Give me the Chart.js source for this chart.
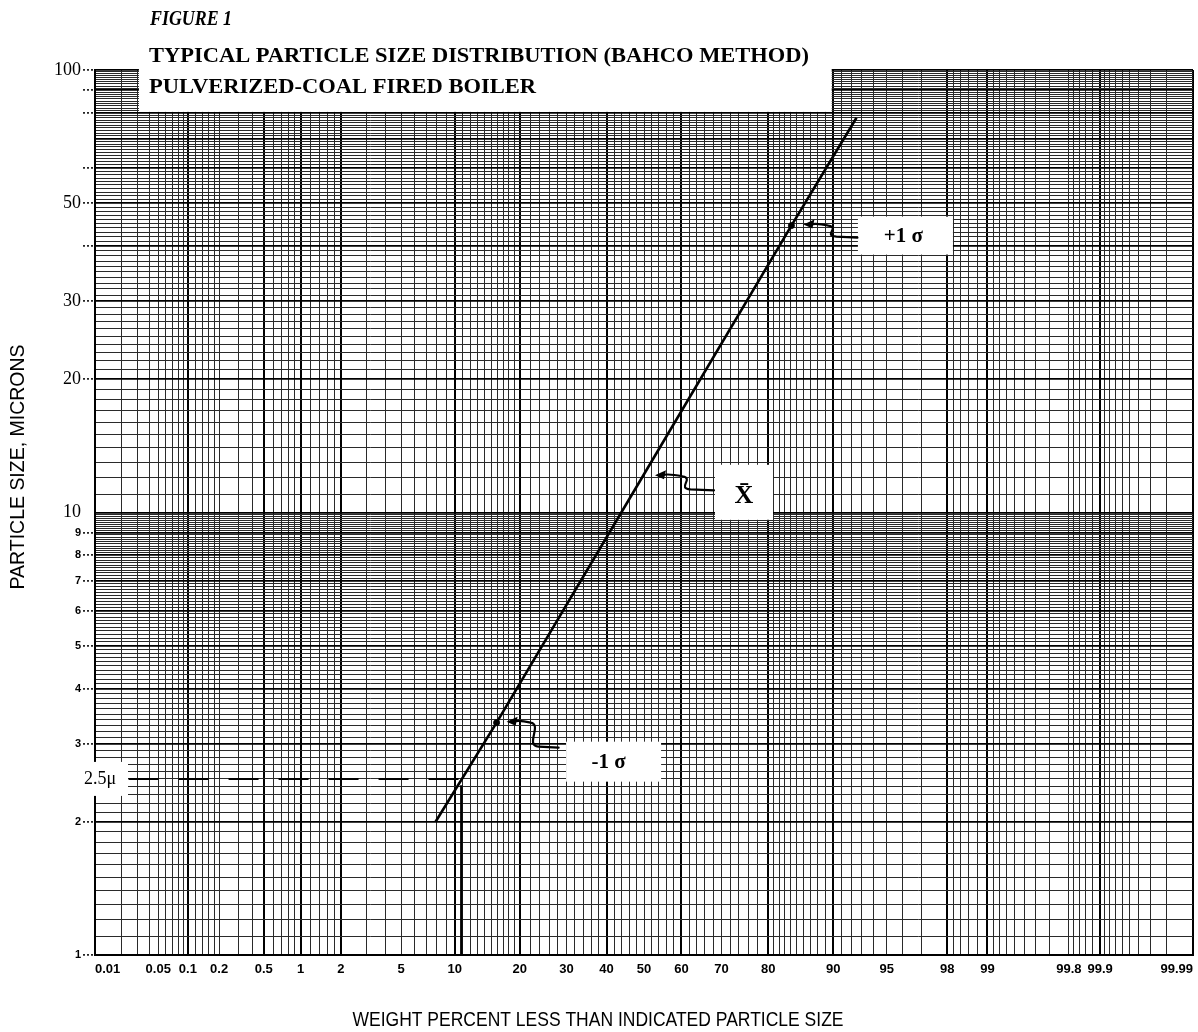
<!DOCTYPE html>
<html><head><meta charset="utf-8">
<script src="https://cdn.jsdelivr.net/npm/chart.js@4.4.1/dist/chart.umd.min.js"></script>
<style>html,body{margin:0;padding:0;background:#fff}#wrap{position:relative;width:1198px;height:1032px}</style>
</head><body><div id="wrap"><canvas id="c"></canvas></div>
<script>
// ---------- data ----------
const curvePercent = [7.9, 15.9, 50, 84.1, 92.5];
const curveSize    = [2.0, 3.35, 12.2, 44.5, 78];
const sigmaPercent = [15.9, 84.1];
const sigmaSize    = [3.35, 44.5];
const refSize = 2.5;
const refLinePercent = [0.024, 11];
const refDropPercent = [10.8, 10.8];
const refDropSize    = [2.42, 1];
const xTickLabels = [0.01,0.05,0.1,0.2,0.5,1,2,5,10,20,30,40,50,60,70,80,90,95,98,99,99.8,99.9,99.99];
const yTickLabels = [1,2,3,4,5,6,7,8,9,10,20,30,50,100];
const yDashTicks  = [1,2,3,4,5,6,7,8,9,20,30,40,50,60,80,90,100];
const xGridRanges = [[0.01,0.1,0.01],[0.1,0.2,0.02],[0.2,1,0.1],[1,2,0.2],[2,10,1],[10,20,1],[20,80,2],[80,90,1],[90,98,1],[98,99,0.2],[99,99.8,0.1],[99.8,99.9,0.02],[99.9,99.99,0.01]];
const yGridRanges = [[1,10,0.1],[10,100,1]];
const xMajor = [0.01,0.1,0.5,1,2,10,20,40,60,80,90,98,99,99.9,99.99];
const yMajor = [1,2,3,4,5,6,7,8,9,10,20,30,40,50,60,70,80,90,100];
const titleFigure = 'FIGURE 1';
const titleLines = ['TYPICAL PARTICLE SIZE DISTRIBUTION (BAHCO METHOD)', 'PULVERIZED-COAL FIRED BOILER'];
const xTitle = 'WEIGHT PERCENT LESS THAN INDICATED PARTICLE SIZE';
const yTitle = 'PARTICLE SIZE, MICRONS';

// ---------- helpers ----------
function probit(p){
  const a=[-3.969683028665376e+01,2.209460984245205e+02,-2.759285104469687e+02,1.383577518672690e+02,-3.066479806614716e+01,2.506628277459239e+00];
  const b=[-5.447609879822406e+01,1.615858368580409e+02,-1.556989798598866e+02,6.680131188771972e+01,-1.328068155288572e+01];
  const c=[-7.784894002430293e-03,-3.223964580411365e-01,-2.400758277161838e+00,-2.549671208440792e+00,4.374664141464968e+00,2.938163982698783e+00];
  const d=[7.784695709041462e-03,3.224671290700398e-01,2.445134137142996e+00,3.754408661907416e+00];
  const pl=0.02425, ph=1-pl; let q,r;
  if(p<pl){q=Math.sqrt(-2*Math.log(p));return (((((c[0]*q+c[1])*q+c[2])*q+c[3])*q+c[4])*q+c[5])/((((d[0]*q+d[1])*q+d[2])*q+d[3])*q+1);}
  if(p<=ph){q=p-0.5;r=q*q;return (((((a[0]*r+a[1])*r+a[2])*r+a[3])*r+a[4])*r+a[5])*q/(((((b[0]*r+b[1])*r+b[2])*r+b[3])*r+b[4])*r+1);}
  q=Math.sqrt(-2*Math.log(1-p));return -(((((c[0]*q+c[1])*q+c[2])*q+c[3])*q+c[4])*q+c[5])/((((d[0]*q+d[1])*q+d[2])*q+d[3])*q+1);
}
const Z = pct => probit(pct/100);
function buildGrid(ranges){
  const s = new Set();
  ranges.forEach(([a,b,st])=>{const n=Math.round((b-a)/st);for(let i=0;i<=n;i++)s.add(Math.round((a+i*st)*10000)/10000);});
  return [...s].sort((u,v)=>u-v);
}
const isIn = (arr,v) => arr.some(t=>Math.abs(t-v)<1e-6);
const xGrid = buildGrid(xGridRanges);
const yGrid = buildGrid(yGridRanges);

function fitText(ctx, text, cx, cy, width, font, rot, align){
  ctx.save(); ctx.font=font; ctx.textAlign=align||'center'; ctx.textBaseline='middle'; ctx.fillStyle='#000';
  const w=ctx.measureText(text).width;
  ctx.translate(cx,cy); if(rot) ctx.rotate(rot);
  ctx.scale(width/w,1); ctx.fillText(text,0,0); ctx.restore();
}
function squiggle(ctx, tipX, tipY, tailX, tailY){
  ctx.save(); ctx.strokeStyle='#000'; ctx.fillStyle='#000'; ctx.lineWidth=2.2; ctx.lineCap='round';
  const midX = tipX + (tailX-tipX)*0.5;
  ctx.beginPath();
  ctx.moveTo(tailX, tailY);
  ctx.lineTo(midX+6, tailY-1);
  ctx.bezierCurveTo(midX-8, tailY-2, midX+10, tipY+3, midX-2, tipY+1);
  ctx.quadraticCurveTo(tipX+12, tipY-2, tipX+7, tipY);
  ctx.stroke();
  ctx.beginPath(); ctx.moveTo(tipX, tipY); ctx.lineTo(tipX+11, tipY-5); ctx.lineTo(tipX+9, tipY+4); ctx.closePath(); ctx.fill();
  ctx.restore();
}
function whiteBox(ctx,cx,cy,w,h){ctx.save();ctx.fillStyle='#fff';ctx.fillRect(cx-w/2,cy-h/2,w,h);ctx.restore();}

const overlay = {
  id:'overlay',
  beforeDatasetsDraw(ch){
    const {ctx, scales:{x,y}, chartArea:a} = ch;
    const x0 = x.getPixelForValue(Z(0.03))+1.5, x1 = x.getPixelForValue(Z(90))-1.5, yb = y.getPixelForValue(80)-1;
    ctx.save(); ctx.fillStyle='#fff'; ctx.fillRect(x0,0,x1-x0,yb); ctx.restore();
    const y25 = y.getPixelForValue(refSize);
    ctx.save(); ctx.fillStyle='#fff'; ctx.fillRect(a.left-28, y25-17, 61, 34); ctx.restore();
  },
  afterDraw(ch){
    const {ctx, scales:{x,y}, chartArea:a} = ch;
    fitText(ctx, titleFigure, 150, 20, 82, 'italic bold 20px "Liberation Serif"', 0, 'left');
    fitText(ctx, titleLines[0], 149, 57, 660, 'bold 20px "Liberation Serif"', 0, 'left');
    fitText(ctx, titleLines[1], 149, 88, 387, 'bold 20px "Liberation Serif"', 0, 'left');
    fitText(ctx, xTitle, 598, 1020, 491, '21px "Liberation Sans"');
    fitText(ctx, yTitle, 18, 467, 245, '21px "Liberation Sans"', -Math.PI/2);
    const y25 = y.getPixelForValue(refSize);
    ctx.save(); ctx.font='18px "Liberation Serif"'; ctx.fillStyle='#000'; ctx.textAlign='center'; ctx.textBaseline='middle';
    ctx.fillText('2.5\u03bc', a.left+5, y25); ctx.restore();
    const P = (pct,sz)=>[x.getPixelForValue(Z(pct)), y.getPixelForValue(sz)];
    let [ax,ay] = P(84.1,44.5);
    whiteBox(ctx, ax+114, ay+10, 95, 38);
    squiggle(ctx, ax+12, ay-1, ax+66, ay+12);
    ctx.save(); ctx.font='bold 21px "Liberation Serif"'; ctx.textAlign='center'; ctx.textBaseline='middle'; ctx.fillStyle='#000';
    ctx.fillText('+1 \u03c3', ax+112, ay+11); ctx.restore();
    [ax,ay] = P(50,12.2);
    whiteBox(ctx, ax+100, ay+18, 58, 55);
    squiggle(ctx, ax+11, ay+1, ax+70, ay+16);
    ctx.save(); ctx.font='bold 26px "Liberation Serif"'; ctx.textAlign='center'; ctx.textBaseline='middle'; ctx.fillStyle='#000';
    ctx.fillText('X\u0304', ax+100, ay+22); ctx.restore();
    [ax,ay] = P(15.9,3.35);
    whiteBox(ctx, ax+117, ay+39, 95, 40);
    squiggle(ctx, ax+10, ay-1, ax+62, ay+25);
    ctx.save(); ctx.font='bold 21px "Liberation Serif"'; ctx.textAlign='center'; ctx.textBaseline='middle'; ctx.fillStyle='#000';
    ctx.fillText('-1 \u03c3', ax+112, ay+40); ctx.restore();
  }
};

const ctx = document.getElementById('c').getContext('2d');
new Chart(ctx, {
  type:'scatter',
  data:{datasets:[
    {data: curvePercent.map((p,i)=>({x:Z(p), y:curveSize[i]})), showLine:true, borderColor:'#000', borderWidth:2.6, pointRadius:0},
    {data: sigmaPercent.map((p,i)=>({x:Z(p), y:sigmaSize[i]})), showLine:false, pointRadius:3, pointBackgroundColor:'#000', pointBorderColor:'#000'},
    {data: refLinePercent.map(p=>({x:Z(p), y:refSize})), showLine:true, borderColor:'#000', borderWidth:2, borderDash:[30,20], pointRadius:0},
    {data: refDropPercent.map((p,i)=>({x:Z(p), y:refDropSize[i]})), showLine:true, borderColor:'#000', borderWidth:2.5, pointRadius:0}
  ]},
  options:{
    responsive:true, maintainAspectRatio:false, animation:false,
    layout:{padding:{top:70,left:0,right:5,bottom:0}},
    plugins:{legend:{display:false}, tooltip:{enabled:false}},
    scales:{
      x:{type:'linear', min:Z(0.01), max:Z(99.99),
        afterBuildTicks: s=>{ s.ticks = xGrid.map(p=>({value:Z(p)})); },
        afterFit: s=>{ s.height = 77; s.paddingLeft = 0; s.paddingRight = 0; },
        ticks:{autoSkip:false, maxRotation:0, minRotation:0, padding:7, color:'#000', align:'inner',
          font:{family:'"Liberation Sans"', size:13, weight:'bold'},
          callback:(v,i)=> isIn(xTickLabels, xGrid[i]) ? String(xGrid[i]) : ''},
        grid:{drawTicks:false,
          color: c=> isIn(xMajor, xGrid[c.index]) ? '#000' : '#2a2a2a',
          lineWidth: c=> isIn(xMajor, xGrid[c.index]) ? 2 : 1},
        border:{display:true, color:'#000', width:2},
        title:{display:false}
      },
      y:{type:'logarithmic', min:1, max:100,
        afterBuildTicks: s=>{ s.ticks = yGrid.map(v=>({value:v})); },
        afterFit: s=>{ s.width = 95; s.paddingTop = 0; s.paddingBottom = 0; },
        ticks:{autoSkip:false, padding:2, color:'#000',
          font: c=> (c.tick && c.tick.value>=10) ? {family:'"Liberation Serif"', size:18} : {family:'"Liberation Sans"', size:11, weight:'bold'},
          callback:(v,i)=> isIn(yTickLabels, yGrid[i]) ? String(yGrid[i]) : ''},
        grid:{drawTicks:true, tickLength:12, tickWidth:1.5, tickBorderDash:[2,2],
          tickColor: c=> isIn(yDashTicks, yGrid[c.index]) ? '#000' : 'rgba(0,0,0,0)',
          color: c=> isIn(yMajor, yGrid[c.index]) ? '#000' : '#2a2a2a',
          lineWidth: c=> isIn(yMajor, yGrid[c.index]) ? 1.8 : 1},
        border:{display:true, color:'#000', width:2},
        title:{display:false}
      }
    }
  },
  plugins:[overlay]
});
</script>
</body></html>
